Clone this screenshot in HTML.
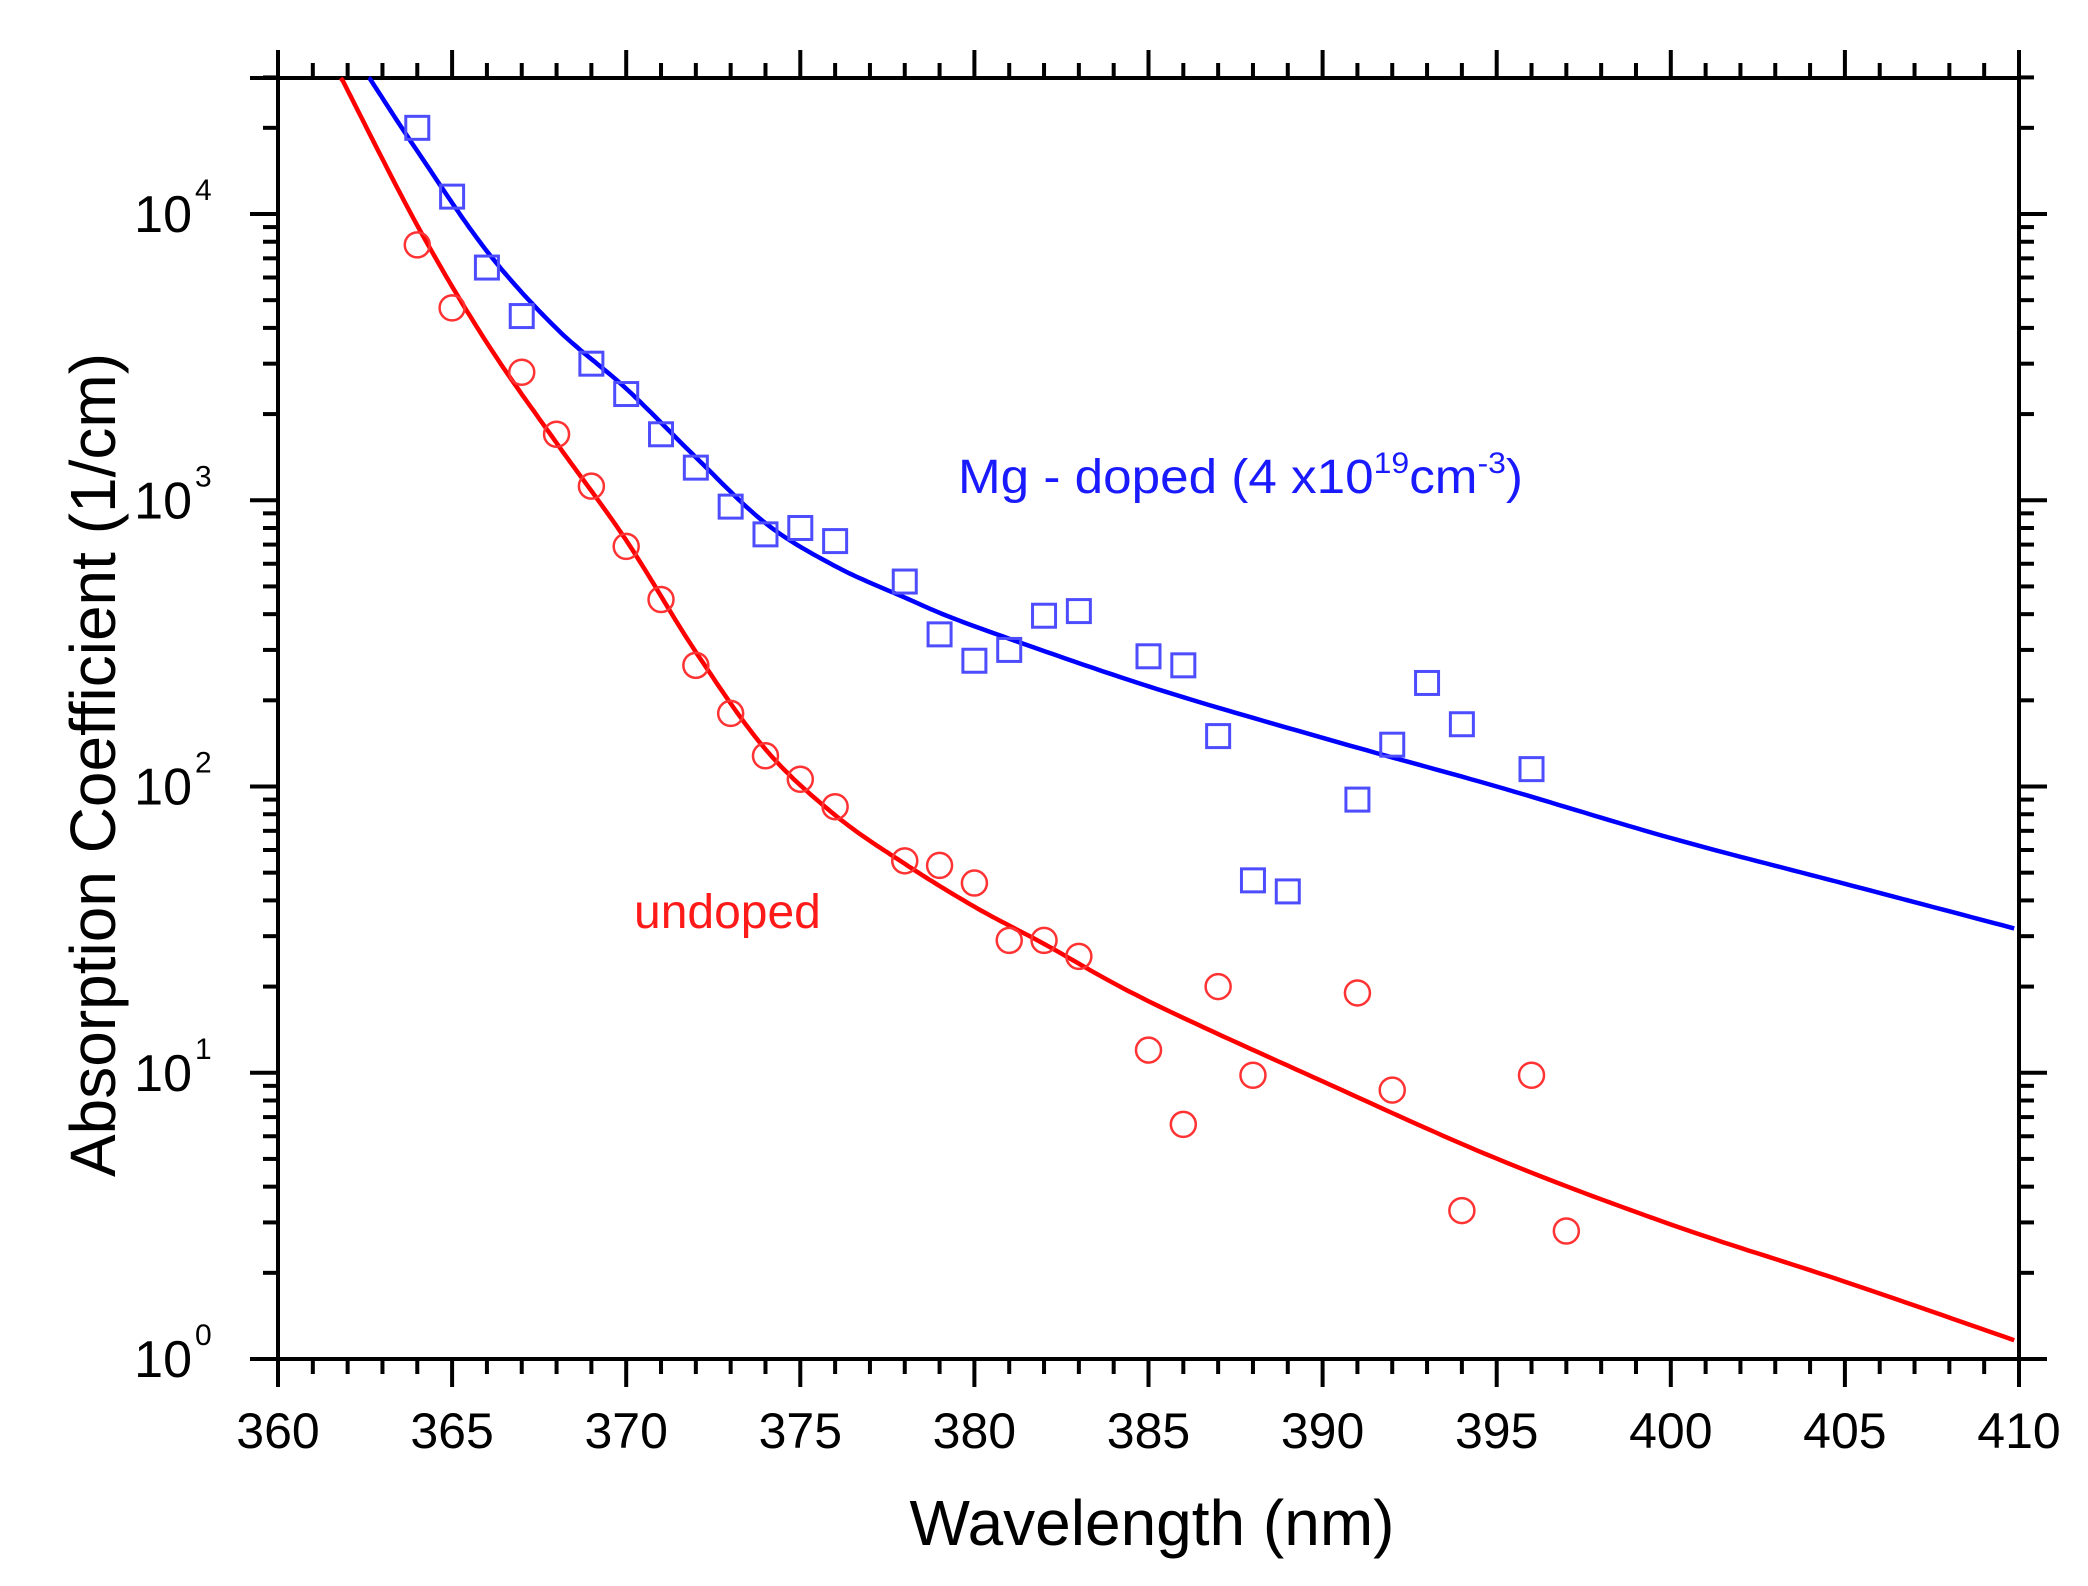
<!DOCTYPE html>
<html><head><meta charset="utf-8"><style>
html,body{margin:0;padding:0;background:#fff;}
svg{display:block;font-family:"Liberation Sans",Arial,sans-serif;}
</style></head><body>
<svg id="s" width="2088" height="1586" xmlns="http://www.w3.org/2000/svg">
<text x="1152" y="1545" font-size="64" text-anchor="middle" fill="#000">Wavelength (nm)</text>
<text transform="translate(115,765) rotate(-90)" font-size="64" text-anchor="middle" fill="#000">Absorption Coefficient (1/cm)</text>
<text x="958" y="493" font-size="48" fill="#1a1aff" textLength="565" lengthAdjust="spacingAndGlyphs">Mg - doped (4 x10<tspan dy="-20" font-size="30">19</tspan><tspan dy="20">cm</tspan><tspan dy="-20" font-size="30">-3</tspan><tspan dy="20">)</tspan></text>
<text x="634" y="928" font-size="48" fill="#ff1a1a">undoped</text>
<g id="g"></g>
</svg>
<script>
var L=278,R=2019,T=78,B=1359,D=286.25;
function X(l){return L+(l-360)*(R-L)/50;}
function Y(lg){return B-lg*D;}
var g=document.getElementById('g'),h='';
function ln(a,b,c,d,w){h+='<line x1="'+a+'" y1="'+b+'" x2="'+c+'" y2="'+d+'" stroke="#000" stroke-width="'+(w||4)+'"/>';}
for(var l=360;l<=410;l++){var x=X(l),m=(l%5==0);ln(x,B,x,B+(m?28:15));ln(x,T,x,T-(m?28:15));
 if(m)h+='<text x="'+x+'" y="1448" font-size="50" text-anchor="middle">'+l+'</text>';}
for(var d=0;d<=4;d++){for(var k=1;k<=9;k++){var lg=d+Math.log10(k);if(lg>4.48)break;var y=Y(lg),m=(k==1);
 ln(L,y,L-(m?28:15),y);ln(R,y,R+(m?28:15),y);}
 h+='<text x="192" y="'+(Y(d)+18)+'" font-size="52" text-anchor="end">10</text><text x="195" y="'+(Y(d)-14)+'" font-size="30">'+d+'</text>';}
ln(L-28,T,R,T);ln(L-28,B,R+28,B);ln(L,T-28,L,B+28);ln(R,T-28,R,B+28);
function curve(pts,col){var s='';var n=pts.length;
 for(var i=0;i<n-1;i++){var p0=pts[Math.max(i-1,0)],p1=pts[i],p2=pts[i+1],p3=pts[Math.min(i+2,n-1)];
  for(var t=0;t<=1;t+=0.05){var t2=t*t,t3=t2*t;
   function cr(a,b,c,d){return 0.5*(2*b+(-a+c)*t+(2*a-5*b+4*c-d)*t2+(-a+3*b-3*c+d)*t3);}
   var xx=cr(p0[0],p1[0],p2[0],p3[0]),yy=cr(p0[1],p1[1],p2[1],p3[1]);
   s+=(s?'L':'M')+X(xx).toFixed(1)+','+Y(Math.min(yy,4.475)).toFixed(1);}}
 h+='<path d="'+s+'" fill="none" stroke="'+col+'" stroke-width="4.5"/>';}
curve([[362.6,4.48],[364,4.22],[366,3.87],[368,3.6],[370,3.39],[372,3.15],[374,2.92],[376,2.77],[378,2.66],[380,2.56],[385,2.35],[390,2.17],[395,2.0],[400,1.82],[405,1.66],[410,1.5]],'#0000ff');
curve([[361.8,4.48],[364,3.96],[366,3.55],[368,3.2],[370,2.86],[372,2.47],[374,2.13],[376,1.9],[378,1.73],[380,1.58],[382,1.45],[385,1.25],[390,0.97],[395,0.7],[400,0.47],[405,0.27],[410,0.06]],'#ff0000');
var bl=[[364,2e4],[365,1.15e4],[366,6.5e3],[367,4.4e3],[369,3e3],[370,2.35e3],[371,1.7e3],[372,1.3e3],[373,950],[374,760],[375,800],[376,720],[378,520],[379,340],[380,275],[381,300],[382,395],[383,410],[385,285],[386,265],[387,150],[388,47],[389,43],[391,90],[392,140],[393,230],[394,165],[396,115]];
bl.forEach(function(p){var x=X(p[0]),y=Y(Math.log10(p[1]));h+='<rect x="'+(x-11.5)+'" y="'+(y-11.5)+'" width="23" height="23" fill="none" stroke="#4d4dff" stroke-width="3"/>';});
var rd=[[364,7.8e3],[365,4.7e3],[367,2.8e3],[368,1.7e3],[369,1.12e3],[370,690],[371,450],[372,265],[373,180],[374,128],[375,106],[376,85],[378,55],[379,53],[380,46],[381,29],[382,29],[383,25.5],[385,12],[386,6.6],[387,20],[388,9.8],[391,19],[392,8.7],[394,3.3],[396,9.8],[397,2.8]];
rd.forEach(function(p){var x=X(p[0]),y=Y(Math.log10(p[1]));h+='<circle cx="'+x+'" cy="'+y+'" r="12.5" fill="none" stroke="#ff3333" stroke-width="2.5"/>';});
g.innerHTML=h;
</script>
</body></html>
